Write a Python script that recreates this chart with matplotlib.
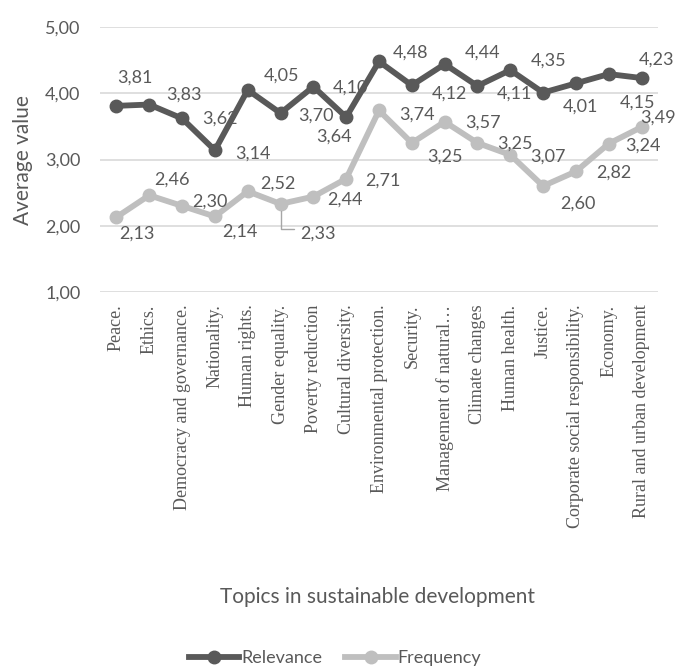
import matplotlib
matplotlib.use("Agg")
import matplotlib.pyplot as plt
from matplotlib.lines import Line2D

topics = [
    "Peace.", "Ethics.", "Democracy and governance.", "Nationality.",
    "Human rights.", "Gender equality.", "Poverty reduction",
    "Cultural diversity.", "Environmental protection.", "Security.",
    "Management of natural\u2026", "Climate changes", "Human health.",
    "Justice.", "Corporate social responsibility.", "Economy.",
    "Rural and urban development",
]
relevance = [3.81, 3.83, 3.62, 3.14, 4.05, 3.70, 4.10, 3.64, 4.48, 4.12,
             4.44, 4.11, 4.35, 4.01, 4.15, 4.29, 4.23]
frequency = [2.13, 2.46, 2.30, 2.14, 2.52, 2.33, 2.44, 2.71, 3.74, 3.25,
             3.57, 3.25, 3.07, 2.60, 2.82, 3.24, 3.49]
# economy's relevance point carries no data label
relevance_labelled = [True] * 15 + [False, True]

# label offsets in pixels (dx right, dy up) so the labels don't collide
rel_offsets = [(18, 28), (35, 10), (38, 0), (38, -3), (34, 14), (35, -2),
               (37, -1), (-12, -20), (31, 9), (38, -8), (38, 12), (37, -8),
               (38, 9), (37, -14), (62, -19), (0, 0), (15, 18)]
freq_offsets = [(20, -16), (23, 16), (28, 4), (25, -15), (30, 8), (37, -30),
                (32, -3), (37, -2), (38, -4), (33, -14), (38, -1), (37, -1),
                (38, -2), (35, -18), (38, -1), (34, -2), (16, 9)]

DARK = "#595959"
LIGHT = "#bfbfbf"
TEXT = "#595959"

fig = plt.figure(figsize=(6.78, 6.69), dpi=100)
ax = fig.add_axes([0.1475, 0.5635, 0.823, 0.3961])

x = list(range(len(topics)))
ax.plot(x, relevance, color=DARK, lw=4.2, marker="o", ms=9, zorder=3,
        solid_joinstyle="round")
ax.plot(x, frequency, color=LIGHT, lw=4.2, marker="o", ms=9, zorder=3,
        solid_joinstyle="round")

ax.set_xlim(-0.5, len(topics) - 0.5)
ax.set_ylim(1, 5)
ax.set_yticks([1, 2, 3, 4, 5])
ax.set_yticklabels([f"{v:.2f}".replace(".", ",") for v in [1, 2, 3, 4, 5]],
                   fontsize=13, color=TEXT, family="Lato")
ax.set_xticks(x)
ax.set_xticklabels(topics, rotation=90, fontsize=13, color=TEXT,
                   family="Liberation Serif", va="top", ha="center")
ax.tick_params(axis="y", length=0, pad=14)
ax.tick_params(axis="x", length=0, pad=9)
ax.grid(axis="y", color="#d9d9d9", lw=1.2)
ax.set_axisbelow(True)
for s in ax.spines.values():
    s.set_visible(False)


def fmt(v):
    return f"{v:.2f}".replace(".", ",")


for i, v in enumerate(relevance):
    if not relevance_labelled[i]:
        continue
    ax.annotate(fmt(v), (i, v), xytext=rel_offsets[i], textcoords="offset pixels",
                ha="center", va="center", fontsize=13, color=TEXT, family="Lato",
                zorder=4)

for i, v in enumerate(frequency):
    props = None
    if topics[i] == "Gender equality.":
        # leader line back to the point
        props = dict(arrowstyle="-", color="#a6a6a6", lw=1.0,
                     connectionstyle="angle,angleA=180,angleB=90,rad=0",
                     relpos=(0.0, 0.8), shrinkA=2, shrinkB=5)
    ax.annotate(fmt(v), (i, v), xytext=freq_offsets[i], textcoords="offset pixels",
                ha="center", va="center", fontsize=13, color=TEXT, family="Lato",
                arrowprops=props, zorder=4)

fig.text(23 / 678, 1 - 160 / 669, "Average value", rotation=90, ha="center",
         va="center", fontsize=15, color=TEXT, family="Lato")
fig.text(378 / 678, 1 - 597 / 669, "Topics in sustainable development",
         ha="center", va="center", fontsize=15, color=TEXT, family="Lato")

handles = [
    Line2D([], [], color=DARK, lw=4.2, marker="o", ms=9),
    Line2D([], [], color=LIGHT, lw=4.2, marker="o", ms=9),
]
leg = fig.legend(handles, ["Relevance", "Frequency"], loc="center",
                 bbox_to_anchor=(335 / 678, 1 - 658 / 669), ncol=2,
                 frameon=False, handlelength=2.8, handletextpad=0.1,
                 columnspacing=1.3, prop={"family": "Lato", "size": 13})
for t in leg.get_texts():
    t.set_color(TEXT)

fig.savefig("out.png", dpi=100)
